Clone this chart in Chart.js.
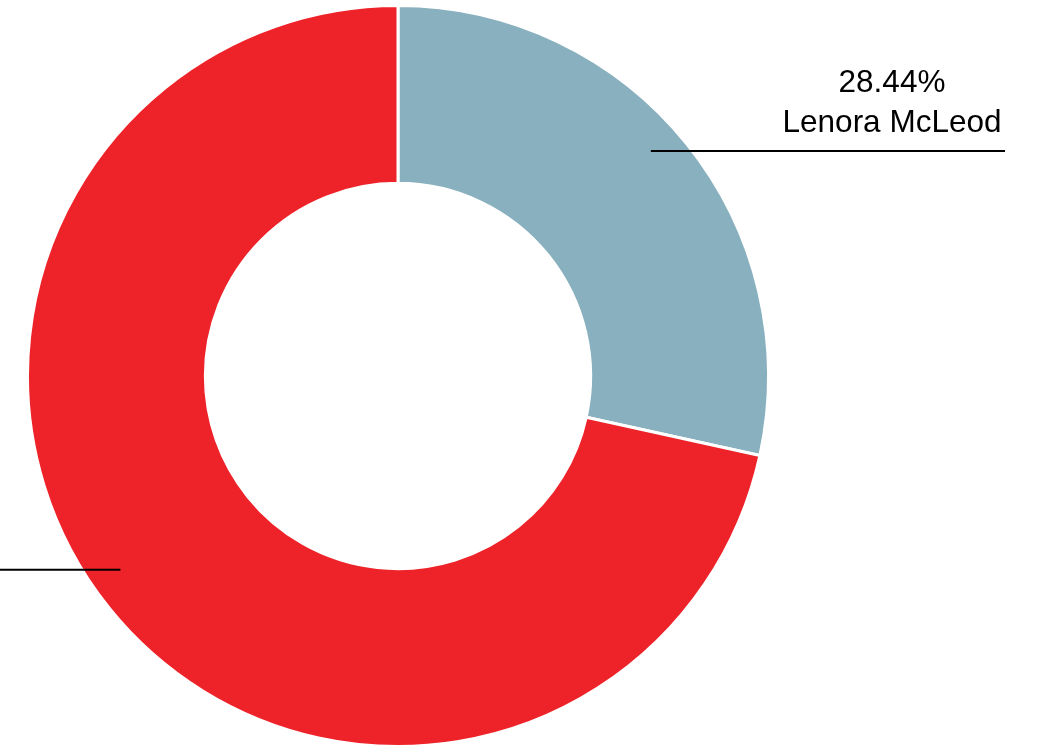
<!DOCTYPE html>
<html>
<head>
<meta charset="utf-8">
<script src="https://cdn.jsdelivr.net/npm/chart.js@4/dist/chart.umd.min.js"></script>
<style>
  html, body { margin: 0; padding: 0; background: #fff; }
  #wrap { width: 1042px; height: 748px; position: relative; }
</style>
</head>
<body>
<div id="wrap"><canvas id="pie"></canvas></div>
<script>
// slice data
const names = ['Lenora McLeod', 'Other'];
const shares = [28.44, 71.56];
const colors = ['#88b0be', '#ee2229'];

// callout labels: line from slice out to a fixed x, two text lines above it
const calloutPlugin = {
  id: 'callouts',
  afterDatasetsDraw(chart) {
    const c = chart.ctx;
    const meta = chart.getDatasetMeta(0);
    const shift = [-0.05, 0.068]; // nudge anchor point along the arc
    c.save();
    c.font = '31.5px "Liberation Sans", Arial, sans-serif';
    c.fillStyle = '#000';
    c.strokeStyle = '#000';
    c.lineWidth = 2;
    c.textAlign = 'center';
    c.textBaseline = 'alphabetic';
    meta.data.forEach((arc, i) => {
      const p = arc.getProps(['x', 'y', 'startAngle', 'endAngle', 'innerRadius', 'outerRadius'], true);
      const mid = (p.startAngle + p.endAngle) / 2 + shift[i];
      const r = p.innerRadius + 0.82 * (p.outerRadius - p.innerRadius);
      const ax = p.x + Math.cos(mid) * r;
      const ay = p.y + Math.sin(mid) * r;
      const right = Math.cos(mid) >= 0;
      const ex = right ? 1005 : -230;
      c.beginPath();
      c.moveTo(ax, ay);
      c.lineTo(ex, ay);
      c.stroke();
      const tx = right ? ex - 113 : ex + 113;
      c.fillText(shares[i].toFixed(2) + '%', tx, ay - 59);
      c.fillText(names[i], tx, ay - 19);
    });
    c.restore();
  }
};

new Chart(document.getElementById('pie'), {
  type: 'doughnut',
  data: {
    labels: names,
    datasets: [{
      data: shares,
      backgroundColor: colors,
      borderColor: '#fff',
      borderWidth: 3,
      hoverOffset: 0
    }]
  },
  options: {
    responsive: true,
    maintainAspectRatio: false,
    animation: false,
    cutout: '52%',
    layout: { padding: { left: 26, right: 272, top: 4, bottom: 0 } },
    plugins: {
      legend: { display: false },
      tooltip: { enabled: false }
    }
  },
  plugins: [calloutPlugin]
});
</script>
</body>
</html>
